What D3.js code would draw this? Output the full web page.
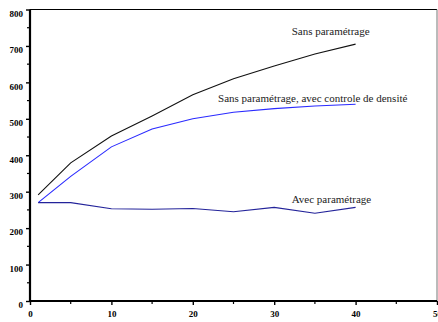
<!DOCTYPE html>
<html>
<head>
<meta charset="utf-8">
<script src="https://cdn.jsdelivr.net/npm/d3@7"></script>
<style>
  body { margin: 0; background: #fff; }
  svg { display: block; }
</style>
</head>
<body>
<div id="chart"></div>
<script>
// x values (number of samples)
var xs = [1, 5, 10, 15, 20, 25, 30, 35, 40];
// series
var sansParam = [291, 379, 453, 508, 566, 610, 645, 678, 705];
var sansParamDensite = [270, 342, 423, 472, 500, 518, 528, 535, 540];
var avecParam = [270, 270, 253, 252, 254, 245, 257, 241, 257];
var seriesNames = ["Sans paramétrage", "Sans paramétrage, avec controle de densité", "Avec paramétrage"];
var xTicks = [0, 10, 20, 30, 40, 50];
var yTicks = [0, 100, 200, 300, 400, 500, 600, 700, 800];

var serif = "'Liberation Serif', 'Times New Roman', serif";
var W = 438, H = 322;
var svg = d3.select("#chart").append("svg").attr("width", W).attr("height", H);

var x = d3.scaleLinear().domain([0, 50]).range([30, 437]);
var y = d3.scaleLinear().domain([0, 800]).range([301, 9.5]);

// frame top and right
svg.append("line").attr("x1", x(0)).attr("x2", x(50)).attr("y1", y(800)).attr("y2", y(800))
  .attr("stroke", "#000").attr("stroke-width", 1);
svg.append("line").attr("x1", x(50)).attr("x2", x(50)).attr("y1", y(800)).attr("y2", y(0))
  .attr("stroke", "#777").attr("stroke-width", 1);

// minor ticks
var gMinor = svg.append("g");
gMinor.selectAll(".my").data(d3.range(50, 800, 100)).enter().append("line")
  .attr("x1", x(0) - 3).attr("x2", x(0)).attr("y1", function(d){ return y(d); }).attr("y2", function(d){ return y(d); })
  .attr("stroke", "#000").attr("stroke-width", 1.2);
gMinor.selectAll(".mx").data(d3.range(5, 50, 10)).enter().append("line")
  .attr("y1", y(0)).attr("y2", y(0) + 3).attr("x1", function(d){ return x(d); }).attr("x2", function(d){ return x(d); })
  .attr("stroke", "#000").attr("stroke-width", 1.2);

// axes
var gx = svg.append("g").attr("transform", "translate(0," + y(0) + ")")
  .call(d3.axisBottom(x).tickValues(xTicks).tickSize(4).tickPadding(6).tickFormat(d3.format("d")));
var gy = svg.append("g").attr("transform", "translate(" + x(0) + ",0)")
  .call(d3.axisLeft(y).tickValues(yTicks).tickSize(4).tickPadding(3).tickFormat(d3.format("d")));
[gx, gy].forEach(function(g){
  g.attr("font-family", null).attr("font-size", null);
  g.select(".domain").attr("stroke", "#000").attr("stroke-width", 2.2);
  g.selectAll(".tick line").attr("stroke", "#000").attr("stroke-width", 1.4);
  g.selectAll(".tick text").attr("fill", "#000")
    .style("font-family", serif).style("font-weight", "bold").style("font-size", "9px");
});
gy.select(".domain").attr("d", "M0," + y(0) + "V" + y(800));
gx.select(".domain").attr("d", "M" + x(0) + ",0H" + x(50));
gy.selectAll(".tick text").attr("dy", "0.75em").attr("x", -7);

// lines
var line = d3.line().x(function(d){ return x(d[0]); }).y(function(d){ return y(d[1]); });
var series = [
  { v: sansParam, c: "#111" },
  { v: sansParamDensite, c: "#2a2aff" },
  { v: avecParam, c: "#23239a" }
];
series.forEach(function(s){
  svg.append("path").datum(d3.zip(xs, s.v)).attr("d", line)
    .attr("fill", "none").attr("stroke", s.c).attr("stroke-width", 1.1);
});

// labels
var labelPos = [[32.15, 730], [23.1, 547], [32.15, 270]];
seriesNames.forEach(function(n, i){
  svg.append("text").attr("x", x(labelPos[i][0])).attr("y", y(labelPos[i][1]))
    .style("font-family", serif).style("font-size", "11px").attr("fill", "#222").text(n);
});
</script>
</body>
</html>
